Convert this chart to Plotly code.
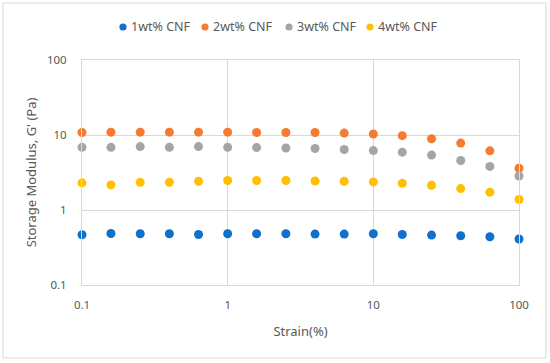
import plotly.graph_objects as go

strain = [0.1, 0.158, 0.251, 0.398, 0.631, 1.0, 1.58, 2.51, 3.98, 6.31, 10.0, 15.8, 25.1, 39.8, 63.1, 100.0]
cnf1 = [0.467, 0.486, 0.482, 0.482, 0.472, 0.482, 0.482, 0.482, 0.477, 0.477, 0.482, 0.472, 0.463, 0.454, 0.44, 0.41]
cnf2 = [10.8, 10.9, 10.9, 10.9, 10.9, 10.9, 10.8, 10.8, 10.8, 10.6, 10.3, 9.8, 8.9, 7.8, 6.15, 3.6]
cnf3 = [6.85, 6.85, 7.0, 6.85, 7.0, 6.85, 6.8, 6.7, 6.6, 6.4, 6.2, 5.9, 5.4, 4.57, 3.81, 2.84]
cnf4 = [2.30, 2.16, 2.34, 2.34, 2.42, 2.47, 2.47, 2.47, 2.44, 2.42, 2.37, 2.27, 2.14, 1.93, 1.73, 1.38]

names = ["1wt% CNF", "2wt% CNF", "3wt% CNF", "4wt% CNF"]
series = [cnf1, cnf2, cnf3, cnf4]
colors = ["#1170CC", "#F47B30", "#A5A5A5", "#FFC000"]

tick_vals = [0.1, 1, 10, 100]
tick_text = ["0.1", "1", "10", "100"]

ML, MR, MT, MB = 82, 31, 60, 78
W, H = 550, 363
pw = W - ML - MR
ph = H - MT - MB


def px_x(px):
    return (px - ML) / pw


def px_y(py):
    return (H - MB - py) / ph


fig = go.Figure()
for n, s, c in zip(names, series, colors):
    fig.add_trace(go.Scatter(x=strain, y=s, mode="markers", name=n, showlegend=False,
                             marker=dict(color=c, size=9), cliponaxis=False))

grid = "#D9D9D9"
font_c = "#595959"
fig.update_layout(
    width=W, height=H,
    margin=dict(l=ML, r=MR, t=MT, b=MB),
    paper_bgcolor="white", plot_bgcolor="white",
    font=dict(family="Noto Sans", size=11.5, color=font_c),
    showlegend=False,
    xaxis=dict(type="log", range=[-1, 2], tickvals=tick_vals, ticktext=tick_text,
               showgrid=True, gridcolor=grid, gridwidth=1, zeroline=False,
               showline=True, linecolor=grid, mirror=True,
               ticks="outside", ticklen=9, tickcolor="rgba(0,0,0,0)",
               title=dict(text="Strain(%)", font=dict(size=13, color=font_c), standoff=16)),
    yaxis=dict(type="log", range=[-1, 2], tickvals=tick_vals, ticktext=tick_text,
               showgrid=True, gridcolor=grid, gridwidth=1, zeroline=False,
               showline=True, linecolor=grid, mirror=True,
               ticks="outside", ticklen=12, tickcolor="rgba(0,0,0,0)",
               title=dict(text="Storage Modulus, G' (Pa)", font=dict(size=13, color=font_c), standoff=7)),
)

# manual legend (marker circle + label)
leg_marker_px = [123, 205, 289, 370]
leg_y = 27
r = 3.6
for n, c, mx in zip(names, colors, leg_marker_px):
    fig.add_shape(type="circle", xref="paper", yref="paper",
                  x0=px_x(mx - r), x1=px_x(mx + r), y0=px_y(leg_y + r), y1=px_y(leg_y - r),
                  fillcolor=c, line=dict(width=0))
    fig.add_annotation(xref="paper", yref="paper", x=px_x(mx + 6), y=px_y(leg_y),
                       text=n, showarrow=False, xanchor="left", yanchor="middle",
                       font=dict(size=12.5, color=font_c))

# chart-area border
fig.add_shape(type="rect", xref="paper", yref="paper",
              x0=px_x(3), x1=px_x(546), y0=px_y(358), y1=px_y(3),
              line=dict(color="#D9D9D9", width=1), fillcolor="rgba(0,0,0,0)", layer="below")

fig.write_html("out.html", config={"displayModeBar": False},
               post_script="document.body.style.margin='0';")
